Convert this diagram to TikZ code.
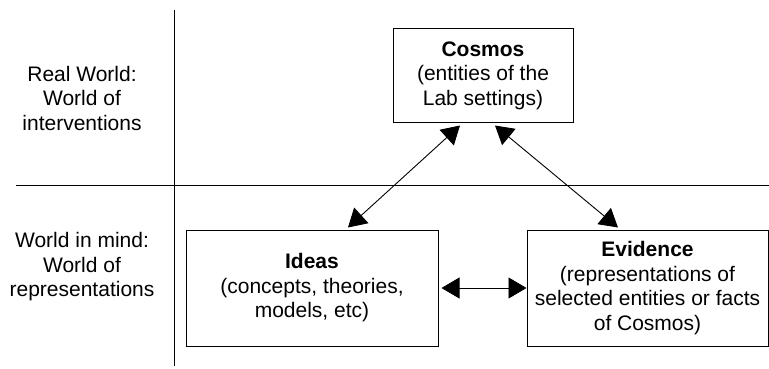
\documentclass[tikz,border=0pt]{standalone}
\usepackage{fontspec}
\setmainfont{Liberation Sans}
\usetikzlibrary{arrows.meta}
\begin{document}
\begin{tikzpicture}[x=1pt,y=-1pt,
		every node/.style={font=\fontsize{21}{24.5}\selectfont, align=center},
		box/.style={draw, line width=1pt, inner sep=0pt},
		tip/.tip={Triangle[length=18pt,width=21pt]},
		link/.style={line width=0.9pt, tip-tip}]
	\useasboundingbox (0,0) rectangle (769,369);
	% the two worlds
	\draw[line width=0.9pt] (174,10) -- (174,366);
	\draw[line width=0.9pt] (16,185) -- (769,185);
	\node (realw) at (82,98) {Real World:\\World of\\interventions};
	\node (mindw) at (82,267) {World in mind:\\World of\\representations};
	% boxes
	\node[box, minimum width=180pt, minimum height=93pt] (cosmos) at (483,75.5)
		{\textbf{Cosmos}\\(entities of the\\Lab settings)};
	\node[box, minimum width=252pt, minimum height=116pt] (ideas) at (312,288)
		{\textbf{Ideas}\\(concepts, theories,\\models, etc)};
	\node[box, minimum width=241pt, minimum height=116pt] (evidence) at (647.5,288)
		{\textbf{Evidence}\\(representations of\\selected entities or facts\\of Cosmos)};
	% links
	\draw[link] ([xshift=-23pt,yshift=-3pt]cosmos.south) -- ([xshift=36pt,yshift=2pt]ideas.north);
	\draw[link] ([xshift=12pt,yshift=-3pt]cosmos.south) -- ([xshift=-29.5pt,yshift=2pt]evidence.north);
	\draw[link] ([xshift=3pt]ideas.east) -- (evidence.west);
\end{tikzpicture}
\end{document}
